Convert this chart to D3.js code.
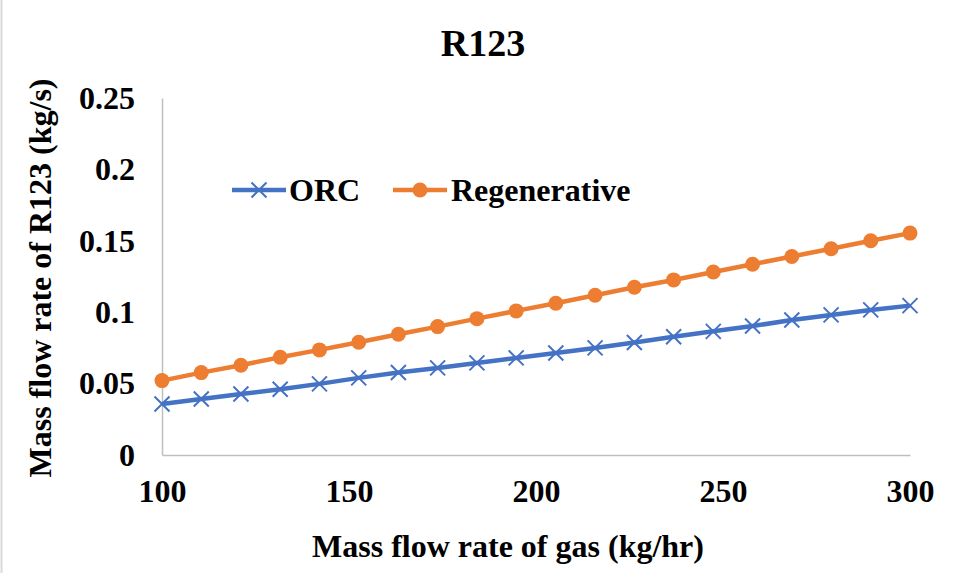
<!DOCTYPE html>
<html>
<head>
<meta charset="utf-8">
<script src="https://cdn.jsdelivr.net/npm/d3@7"></script>
<style>
  html, body { margin: 0; padding: 0; background: #ffffff; }
  svg { display: block; }
  text { font-family: "Liberation Serif", "Times New Roman", serif; font-weight: bold; fill: #000; }
</style>
</head>
<body>
<svg id="chart" width="960" height="573"></svg>
<script>
// Gas mass flow rate (kg/hr)
const gasFlow = [100, 110.5, 121.1, 131.6, 142.1, 152.6, 163.2, 173.7, 184.2, 194.7,
                 205.3, 215.8, 226.3, 236.8, 247.4, 257.9, 268.4, 278.9, 289.5, 300];
// R123 mass flow rate (kg/s), basic ORC
const orc = [0.0357, 0.0392, 0.0427, 0.0461, 0.0498, 0.0540, 0.0578, 0.0610, 0.0645, 0.0680,
             0.0714, 0.0750, 0.0788, 0.0828, 0.0866, 0.0903, 0.0945, 0.0981, 0.1016, 0.1046];
// R123 mass flow rate (kg/s), regenerative ORC
const regenerative = [0.0521, 0.0577, 0.0629, 0.0685, 0.0736, 0.0790, 0.0846, 0.0899, 0.0955, 0.1009,
                      0.1063, 0.1119, 0.1175, 0.1226, 0.1282, 0.1336, 0.1390, 0.1444, 0.1500, 0.1554];
const xTicks = [100, 150, 200, 250, 300];
const yTicks = [0, 0.05, 0.1, 0.15, 0.2, 0.25];
const seriesNames = ["ORC", "Regenerative"];

const BLUE = "#4472C4", ORANGE = "#ED7D31", AXIS = "#bfbfbf";
const FONT = "'Liberation Serif', 'Times New Roman', serif";

const svg = d3.select("#chart");

// outer chart border (left edge visible)
svg.append("line").attr("x1", 1.5).attr("x2", 1.5).attr("y1", 0).attr("y2", 573)
  .attr("stroke", "#d9d9d9").attr("stroke-width", 2);

const x = d3.scaleLinear().domain([100, 300]).range([162, 910]);
const y = d3.scaleLinear().domain([0, 0.25]).range([455, 98]);

// title
svg.append("text").attr("x", 483).attr("y", 56).attr("text-anchor", "middle")
  .style("font-size", "38px").text("R123");

// axes
const xAxis = d3.axisBottom(x).tickValues(xTicks).tickSize(0).tickPadding(24).tickFormat(d3.format("d"));
const gx = svg.append("g").attr("transform", `translate(0,${y(0)})`).call(xAxis);
gx.select(".domain").attr("stroke", AXIS).attr("stroke-width", 1.5);
gx.selectAll("text").style("font-size", "32px").attr("fill", "#000")
  .style("font-family", FONT).style("font-weight", "bold");

const yAxis = d3.axisLeft(y).tickValues(yTicks).tickSize(0).tickPadding(27).tickFormat(d => d3.format("")(d));
const gy = svg.append("g").attr("transform", `translate(${x(100)},0)`).call(yAxis);
gy.select(".domain").attr("stroke", AXIS).attr("stroke-width", 1.5);
gy.selectAll("text").style("font-size", "32px").attr("fill", "#000")
  .style("font-family", FONT).style("font-weight", "bold");

// axis titles
svg.append("text").attr("x", 508).attr("y", 557).attr("text-anchor", "middle")
  .style("font-size", "32px").text("Mass flow rate of gas (kg/hr)");
svg.append("text").attr("transform", "translate(51,278) rotate(-90)").attr("text-anchor", "middle")
  .style("font-size", "32px").text("Mass flow rate of R123 (kg/s)");

// series
const line = d3.line().x((d, i) => x(gasFlow[i])).y(d => y(d));

const xMarker = (g, s) => g.append("path")
  .attr("d", `M${-s},${-s}L${s},${s}M${-s},${s}L${s},${-s}`)
  .attr("stroke", BLUE).attr("stroke-width", 2).attr("fill", "none");

svg.append("path").datum(orc).attr("d", line).attr("fill", "none")
  .attr("stroke", BLUE).attr("stroke-width", 4.5).attr("stroke-linejoin", "round");
svg.append("g").selectAll("g").data(orc).join("g")
  .attr("transform", (d, i) => `translate(${x(gasFlow[i])},${y(d)})`)
  .each(function () { xMarker(d3.select(this), 7.5); });

svg.append("path").datum(regenerative).attr("d", line).attr("fill", "none")
  .attr("stroke", ORANGE).attr("stroke-width", 4.5).attr("stroke-linejoin", "round");
svg.append("g").selectAll("circle").data(regenerative).join("circle")
  .attr("cx", (d, i) => x(gasFlow[i])).attr("cy", d => y(d)).attr("r", 7.5)
  .attr("fill", ORANGE);

// legend
const legend = svg.append("g");
const leg1 = legend.append("g").attr("transform", "translate(232,190)");
leg1.append("line").attr("x1", 0).attr("x2", 54).attr("stroke", BLUE).attr("stroke-width", 4.5);
xMarker(leg1.append("g").attr("transform", "translate(27,0)"), 7.5);
leg1.append("text").attr("x", 57).attr("y", 11).style("font-size", "32px").text(seriesNames[0]);

const leg2 = legend.append("g").attr("transform", "translate(393,190)");
leg2.append("line").attr("x1", 0).attr("x2", 54).attr("stroke", ORANGE).attr("stroke-width", 4.5);
leg2.append("circle").attr("cx", 27).attr("cy", 0).attr("r", 7.5).attr("fill", ORANGE);
leg2.append("text").attr("x", 58).attr("y", 11).style("font-size", "32px").text(seriesNames[1]);
</script>
</body>
</html>
